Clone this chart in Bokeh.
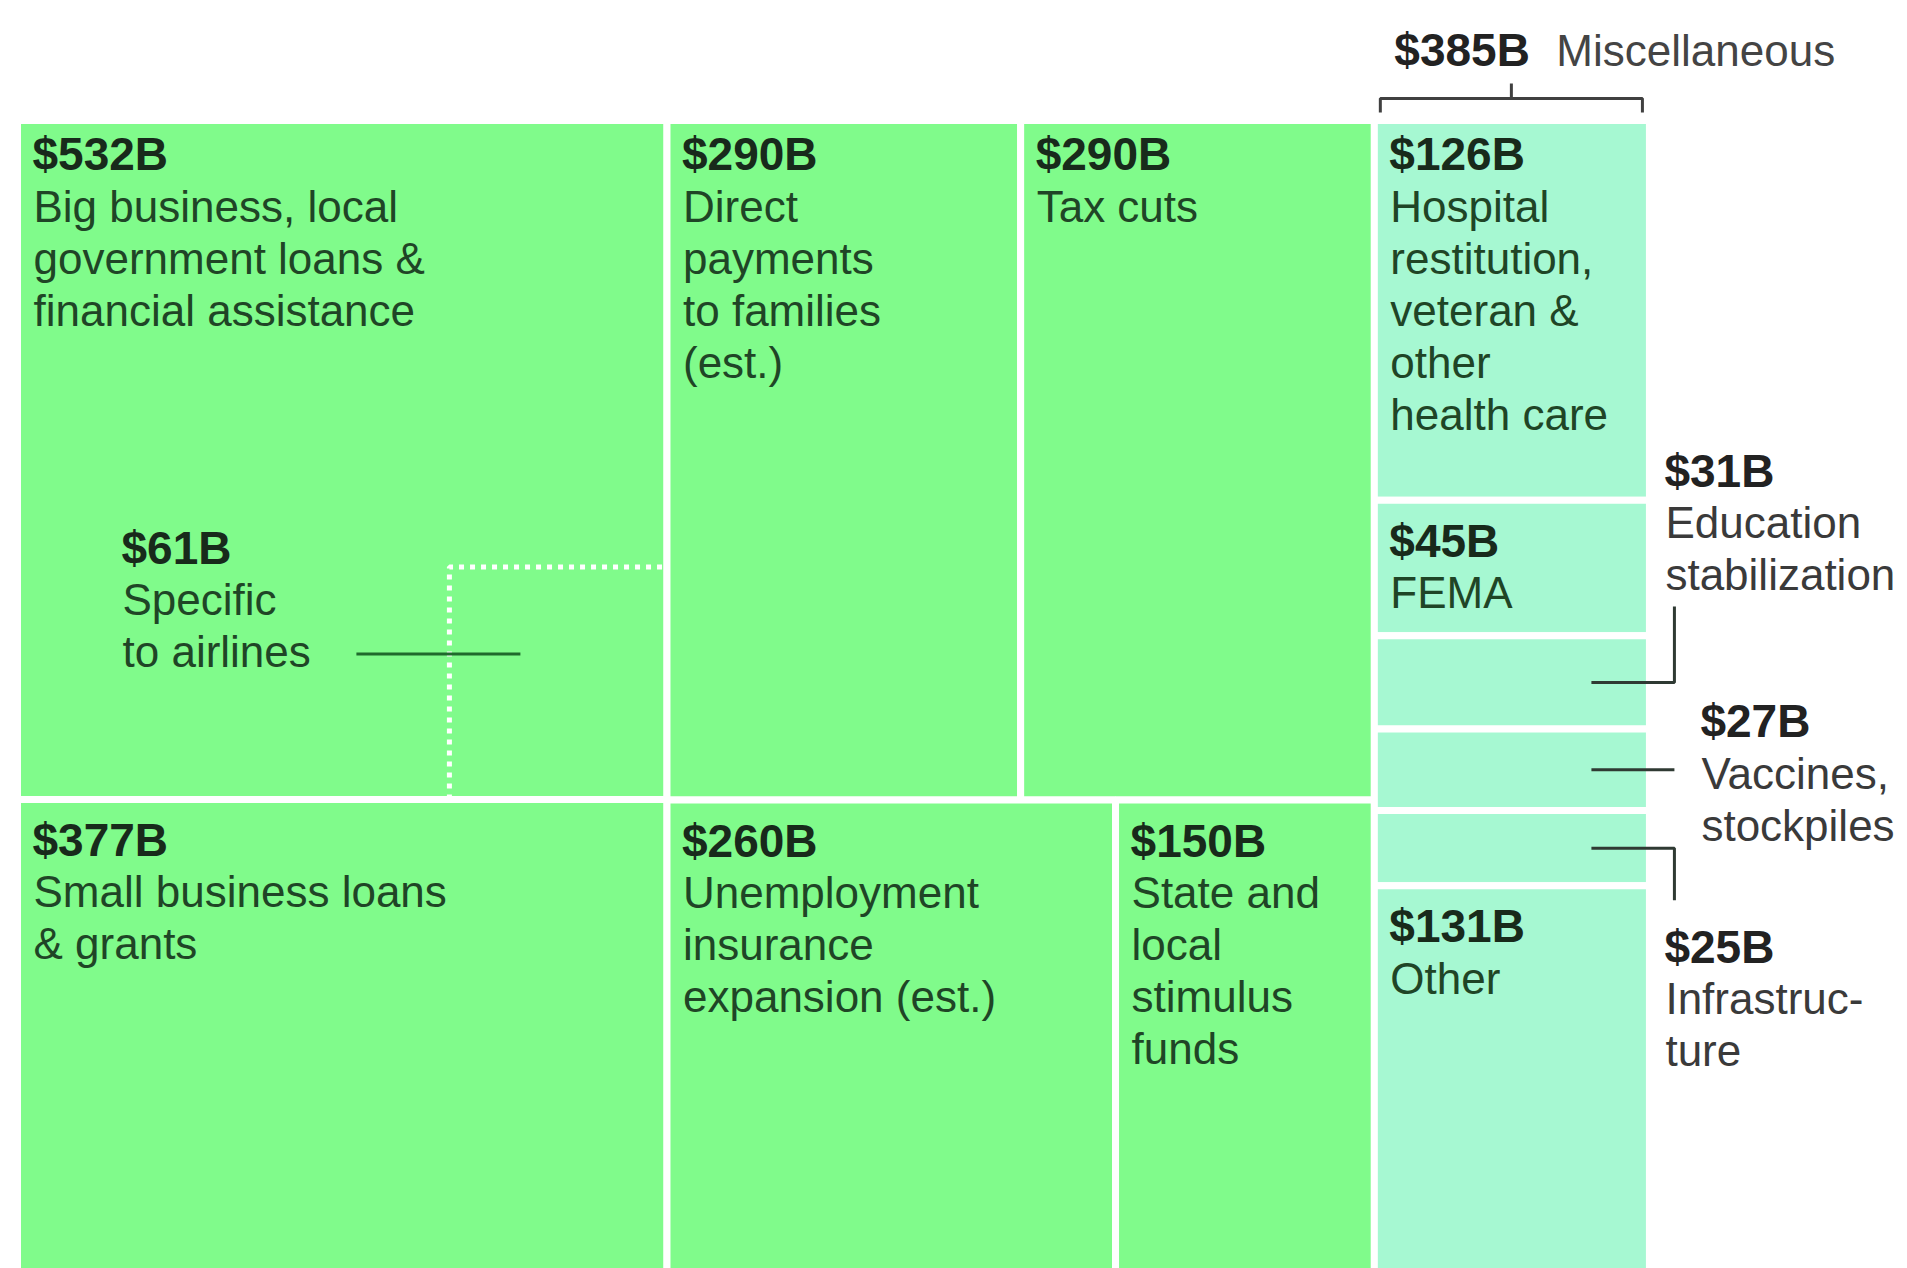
from bokeh.plotting import figure
from bokeh.models import ColumnDataSource, Range1d
from bokeh.embed import file_html
from bokeh.resources import INLINE
from bokeh.core.properties import value

# ---------------- data ----------------
big_values = [532, 377]
big_texts = [["Big business, local", "government loans &", "financial assistance"],
             ["Small business loans", "& grants"]]
mid_values = [290, 290, 260, 150]
mid_texts = [["Direct", "payments", "to families", "(est.)"],
             ["Tax cuts"],
             ["Unemployment", "insurance", "expansion (est.)"],
             ["State and", "local", "stimulus", "funds"]]
misc_values = [126, 45, 31, 27, 25, 131]
misc_texts = [["Hospital", "restitution,", "veteran &", "other", "health care"],
              ["FEMA"],
              ["Education", "stabilization"],
              ["Vaccines,", "stockpiles"],
              ["Infrastruc-", "ture"],
              ["Other"]]
misc_title = "Miscellaneous"
airline_value = 61
airline_text = ["Specific", "to airlines"]

# ---------------- styling / layout constants ----------------
GREEN = "#80fb8b"
TEAL = "#a6f8d2"
W, H = 1907, 1268
KX = 0.7145      # px per unit of x
KY = 1160.0      # px per unit of y
LEFT_PX, TOP_PX = 17, 120
FONT = "Liberation Sans"
FS = "44px"
FSB = "46px"
LH = 52          # line step in px
BIAS = -13.5     # baseline correction in px

def dx(px):
    return px / KX

def dy(px):
    return px / KY

def fmt(v):
    return "$%dB" % v

# ---------------- treemap layout ----------------
rects = []  # (x0, x1, y0, y1, color, value, lines)
xa0, xa1 = 0.0, float(sum(big_values))
ytop = 1.0
for v, t in zip(big_values, big_texts):
    h = v / (xa1 - xa0)
    rects.append((xa0, xa1, ytop - h, ytop, GREEN, v, t))
    ytop -= h

xb0 = xa1
xb1 = xb0 + sum(mid_values)
rows = [[0, 1], [2, 3]]
ytop = 1.0
for row in rows:
    rv = sum(mid_values[i] for i in row)
    h = rv / (xb1 - xb0)
    x = xb0
    for i in row:
        w = mid_values[i] / h
        rects.append((x, x + w, ytop - h, ytop, GREEN, mid_values[i], mid_texts[i]))
        x += w
    ytop -= h

xc0 = xb1
xc1 = xc0 + sum(misc_values)
misc_rects = []
ytop = 1.0
for v, t in zip(misc_values, misc_texts):
    h = v / (xc1 - xc0)
    r = (xc0, xc1, ytop - h, ytop, TEAL, v, t)
    rects.append(r)
    misc_rects.append(r)
    ytop -= h

x_start = -dx(LEFT_PX)
y_end = 1 + dy(TOP_PX)
p = figure(width=W, height=H, output_backend="svg", toolbar_location=None,
           x_range=Range1d(x_start, x_start + dx(W)),
           y_range=Range1d(y_end - dy(H), y_end),
           x_axis_location=None, y_axis_location=None, min_border=0)
p.grid.visible = False
p.outline_line_color = None
p.background_fill_color = "white"

src = ColumnDataSource(dict(
    left=[r[0] for r in rects], right=[r[1] for r in rects],
    bottom=[r[2] for r in rects], top=[r[3] for r in rects],
    color=[r[4] for r in rects]))
p.quad(left="left", right="right", bottom="bottom", top="top", source=src,
       fill_color="color", line_color="white", line_width=7)

# ---------------- inside labels ----------------
inside = [r for r in rects if r[5] >= 40]
vals = dict(x=[], y=[], t=[], yo=[])
desc = dict(x=[], y=[], t=[], yo=[])
for r in inside:
    base = (47 if r[3] >= 1.0 else 54) + BIAS
    vals["x"].append(r[0]); vals["y"].append(r[3]); vals["t"].append(fmt(r[5]))
    vals["yo"].append(base)
    for i, line in enumerate(r[6]):
        desc["x"].append(r[0]); desc["y"].append(r[3]); desc["t"].append(line)
        desc["yo"].append(base + LH * (i + 1))

p.text(x="x", y="y", text="t", y_offset="yo", x_offset=15, source=ColumnDataSource(vals),
       text_font=value(FONT), text_font_size=FSB, text_font_style="bold",
       text_color="#182a1b", text_baseline="alphabetic", text_align="left")
p.text(x="x", y="y", text="t", y_offset="yo", x_offset=16, source=ColumnDataSource(desc),
       text_font=value(FONT), text_font_size=FS,
       text_color="#1f4526", text_baseline="alphabetic", text_align="left")

# ---------------- airline sub-area ----------------
top_a = rects[0]
sub_w = 0.335 * (top_a[1] - top_a[0])
sub_h = airline_value / sub_w
sub_x0 = top_a[1] - sub_w
sub_y0 = top_a[2]
sub_y1 = sub_y0 + sub_h
p.line(x=[sub_x0, sub_x0, top_a[1]], y=[sub_y0, sub_y1, sub_y1],
       line_color="white", line_width=5, line_dash="5 6")
p.line(x=[sub_x0 - dx(93), sub_x0 + dx(71)], y=[sub_y1 - dy(87), sub_y1 - dy(87)],
       line_color="#1f6a2c", line_width=3)
p.text(x=[top_a[0]], y=[sub_y1], text=[fmt(airline_value)], x_offset=104, y_offset=-6 + BIAS,
       text_font=value(FONT), text_font_size=FSB, text_font_style="bold",
       text_color="#182a1b", text_baseline="alphabetic")
p.text(x=[top_a[0]] * len(airline_text), y=[sub_y1] * len(airline_text), text=airline_text,
       x_offset=105, y_offset=[-6 + BIAS + LH * (i + 1) for i in range(len(airline_text))],
       text_font=value(FONT), text_font_size=FS,
       text_color="#1f4526", text_baseline="alphabetic")

# ---------------- header bracket ----------------
bx0, bx1 = xc0 + dx(6), xc1 - dx(7)
by = 1 + dy(22)
p.line(x=[bx0, bx0, bx1, bx1], y=[1 + dy(8), by, by, 1 + dy(8)], line_color="#404040", line_width=3)
bm = (bx0 + bx1) / 2
p.line(x=[bm, bm], y=[by, 1 + dy(37)], line_color="#404040", line_width=3)
p.text(x=[xc0], y=[1.0], text=[fmt(sum(misc_values))], x_offset=20, y_offset=-57 + BIAS,
       text_font=value(FONT), text_font_size=FSB, text_font_style="bold",
       text_color="#222222", text_baseline="alphabetic")
p.text(x=[xc0], y=[1.0], text=[misc_title], x_offset=182, y_offset=-57 + BIAS,
       text_font=value(FONT), text_font_size=FS,
       text_color="#444444", text_baseline="alphabetic")

# ---------------- outside labels for small misc items ----------------
outside = [r for r in misc_rects if r[5] < 40]
# (label x offset px, baseline offset from box centre px, elbow px: +up / -down / 0)
placements = [(15, -198, 76), (51, -35, 0), (15, 112, -52)]
for r, (xo, yo, elbow) in zip(outside, placements):
    cy = (r[2] + r[3]) / 2
    lx = [r[1] - dx(58), r[1] + dx(25)]
    ly = [cy, cy]
    if elbow:
        lx.append(r[1] + dx(25))
        ly.append(cy + dy(elbow))
    p.line(x=lx, y=ly, line_color="#2f3a33", line_width=3)
    p.text(x=[r[1]], y=[cy], text=[fmt(r[5])], x_offset=xo, y_offset=yo + BIAS,
           text_font=value(FONT), text_font_size=FSB, text_font_style="bold",
           text_color="#222222", text_baseline="alphabetic")
    p.text(x=[r[1]] * len(r[6]), y=[cy] * len(r[6]), text=r[6], x_offset=xo + 1,
           y_offset=[yo + BIAS + LH * (i + 1) for i in range(len(r[6]))],
           text_font=value(FONT), text_font_size=FS,
           text_color="#3a3a3a", text_baseline="alphabetic")

open("out.html", "w").write(file_html(p, INLINE))
